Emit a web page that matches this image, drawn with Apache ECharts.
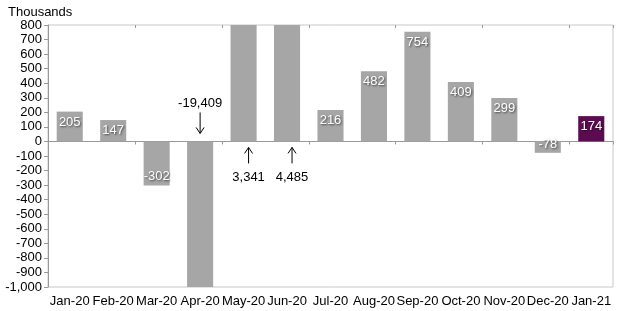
<!DOCTYPE html>
<html><head><meta charset="utf-8">
<script src="https://cdn.jsdelivr.net/npm/echarts@6/dist/echarts.min.js"></script>
<style>html,body{margin:0;padding:0;background:#fff}#c{width:619px;height:311px}</style>
</head><body><div id="c"></div>
<script>
var categories = ['Jan-20','Feb-20','Mar-20','Apr-20','May-20','Jun-20','Jul-20','Aug-20','Sep-20','Oct-20','Nov-20','Dec-20','Jan-21'];
var values = [205,147,-302,-19409,3341,4485,216,482,754,409,299,-78,174];
var yTicks = {min:-1000, max:800, interval:100};
var annotations = [[3,-19409,'down'],[4,3341,'up'],[5,4485,'up']];
var grayColor = '#a6a6a6', highlightColor = '#5b0c51';

function fmt(v){ return v.toLocaleString('en-US'); }
var annotated = annotations.map(function(a){return a[0];});

var barData = values.map(function(v,i){
  var last = i === values.length-1;
  var item = {value:v, itemStyle:{color: last ? highlightColor : grayColor}};
  if (annotated.indexOf(i) >= 0) item.label = {show:false};
  else item.label = {position: v>=0 ? 'insideTop' : 'insideBottom', distance: v>=0?4:2};
  return item;
});

var chart = echarts.init(document.getElementById('c'));
chart.setOption({
  animation:false,
  textStyle:{fontFamily:'Arial, "Liberation Sans", sans-serif'},
  title:{text:'Thousands', left:3, top:1, textStyle:{fontSize:13, fontWeight:'normal', color:'#000'}},
  grid:{left:48, right:6, top:25, bottom:24, show:true, borderColor:'#c8c8c8', borderWidth:1},
  xAxis:[
    {type:'category', data:categories, axisLine:{onZero:true, lineStyle:{color:'#999'}},
     axisTick:{show:true, length:3, lineStyle:{color:'#999'}}, axisLabel:{show:false}},
    {type:'category', data:categories, position:'bottom', axisLine:{onZero:false, show:false},
     axisTick:{show:false}, axisLabel:{show:true, color:'#000', fontSize:13, margin:8, interval:0}},
    {type:'category', data:categories, axisLine:{onZero:true, show:false},
     axisTick:{show:true, inside:true, length:3, lineStyle:{color:'#999'}}, axisLabel:{show:false}}
  ],
  yAxis:{type:'value', min:yTicks.min, max:yTicks.max, interval:yTicks.interval,
    axisLine:{show:true, lineStyle:{color:'#999'}}, axisTick:{show:true, length:4, lineStyle:{color:'#999'}},
    splitLine:{show:false},
    axisLabel:{color:'#000', fontSize:13, margin:6, formatter:function(v){return fmt(v);}}},
  series:[
    {type:'bar', data:barData, barWidth:'60%', clip:true,
     label:{show:true, color:'#fff', fontSize:13, textShadowColor:'rgba(0,0,0,0.6)', textShadowBlur:2, textShadowOffsetX:1, textShadowOffsetY:1,
       formatter:function(p){return fmt(p.value);}}},
    {type:'custom', data:annotations, silent:true, z:10,
     renderItem:function(params, api){
       var idx = api.value(0);
       var dir = annotations[params.dataIndex][2];
       var val = annotations[params.dataIndex][1];
       var p0 = api.coord([idx, 0]);
       var x = p0[0], y0 = p0[1];
       var ls = {stroke:'#000', lineWidth:1};
       if (dir === 'down') {
         var ty = y0-29, by = y0-8;
         return {type:'group', children:[
           {type:'text', style:{text:fmt(val), x:x, y:y0-38, align:'center', verticalAlign:'middle', fill:'#000', font:'13px Arial'}},
           {type:'line', shape:{x1:x, y1:ty, x2:x, y2:by}, style:ls},
           {type:'polyline', shape:{points:[[x-4,by-6],[x,by],[x+4,by-6]]}, style:{stroke:'#000', lineWidth:1, fill:null}}
         ]};
       } else {
         x += 5;
         var ty2 = y0+6, by2 = y0+22;
         return {type:'group', children:[
           {type:'text', style:{text:fmt(val), x:x, y:y0+36, align:'center', verticalAlign:'middle', fill:'#000', font:'13px Arial'}},
           {type:'line', shape:{x1:x, y1:ty2, x2:x, y2:by2}, style:ls},
           {type:'polyline', shape:{points:[[x-4,ty2+6],[x,ty2],[x+4,ty2+6]]}, style:{stroke:'#000', lineWidth:1, fill:null}}
         ]};
       }
     }}
  ]
});
</script></body></html>
